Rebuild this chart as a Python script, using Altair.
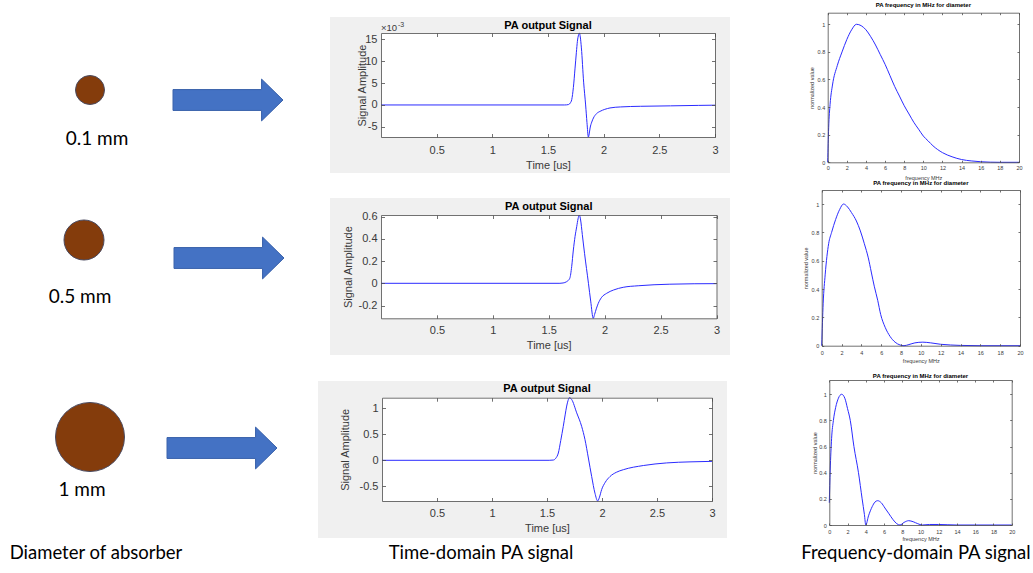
import altair as alt
import pandas as pd

W, H = 1033, 573

# ---------------- data ----------------
diam_mm = [0.1, 0.5, 1.0]
diam_labels = ["0.1 mm", "0.5 mm", "1 mm"]
captions = ["Diameter of absorber", "Time-domain PA signal", "Frequency-domain PA signal"]

# time-domain signals, time in us
t1 = [0, 1.65, 1.685, 1.70, 1.713, 1.728, 1.743, 1.755, 1.764, 1.775, 1.782, 1.79, 1.80, 1.82,
      1.838, 1.85, 1.8625, 1.87, 1.878, 1.893, 1.908, 1.935, 1.968, 2.01, 2.057, 2.15, 2.33, 2.6, 2.85, 3.0]
s1_e3 = [0, 0, 0.1, 0.45, 1.2, 4.0, 8.4, 12, 14.5, 16.0, 16.4, 15.5, 13, 5.2,
         0, -4, -7.3, -6.6, -5.25, -3.9, -2.97, -2.0, -1.45, -1.0, -0.68, -0.45, -0.3, -0.2, -0.1, -0.05]

t2 = [0, 1.60, 1.628, 1.66, 1.688, 1.705, 1.72, 1.735, 1.75, 1.762, 1.773, 1.785, 1.80, 1.82, 1.855,
      1.875, 1.898, 1.91, 1.925, 1.943, 1.97, 2.018, 2.08, 2.166, 2.3, 2.583, 2.8, 3.0]
s2 = [0, 0, 0.003, 0.015, 0.045, 0.15, 0.30, 0.42, 0.51, 0.58, 0.615, 0.57, 0.44, 0.27, 0,
      -0.16, -0.315, -0.28, -0.23, -0.18, -0.13, -0.09, -0.06, -0.036, -0.022, -0.008, -0.004, -0.003]

t3 = [0, 1.52, 1.558, 1.58, 1.603, 1.625, 1.648, 1.665, 1.679, 1.692, 1.703, 1.724, 1.77, 1.815, 1.845,
      1.876, 1.906, 1.936, 1.961, 1.975, 1.997, 2.03, 2.073, 2.13, 2.194, 2.376, 2.588, 2.8, 3.0]
s3 = [0, 0, 0.005, 0.04, 0.14, 0.38, 0.65, 0.87, 1.04, 1.15, 1.2, 1.166, 0.91, 0.65, 0.40,
      0.044, -0.31, -0.63, -0.78, -0.72, -0.56, -0.42, -0.31, -0.23, -0.18, -0.1, -0.05, -0.03, -0.02]

# frequency-domain spectra, frequency in MHz, normalized value
f1 = [0, 0.1, 0.25, 0.5, 1, 1.5, 2, 2.5, 3, 3.5, 4, 4.5, 5, 5.5, 6, 6.5, 7, 7.5, 8, 8.5, 9, 9.5, 10,
      10.5, 11, 12, 13, 14, 15, 16, 17, 18, 20]
p1 = [0, 0.25, 0.42, 0.56, 0.7, 0.8, 0.89, 0.96, 1.0, 0.99, 0.96, 0.91, 0.85, 0.78, 0.71, 0.63, 0.55,
      0.48, 0.41, 0.35, 0.29, 0.24, 0.19, 0.155, 0.12, 0.07, 0.04, 0.02, 0.01, 0.004, 0.001, 0, 0]

f2 = [0, 0.15, 0.35, 0.7, 1.0, 1.4, 1.8, 2.2, 2.6, 3.0, 3.5, 3.9, 4.3, 4.7, 5.0, 5.3, 5.65, 5.95,
      6.4, 6.9, 7.4, 7.9, 8.3, 8.8, 9.4, 10.2, 11, 12, 13, 14, 16, 20]
p2 = [0, 0.3, 0.5, 0.72, 0.8, 0.89, 0.96, 1.0, 0.98, 0.94, 0.88, 0.81, 0.72, 0.62, 0.52, 0.42, 0.32, 0.22,
      0.13, 0.065, 0.025, 0.005, 0, 0.008, 0.02, 0.025, 0.02, 0.01, 0.005, 0.002, 0, 0]

f3 = [0, 0.1, 0.25, 0.45, 0.7, 1.0, 1.35, 1.7, 2.0, 2.3, 2.7, 3.2, 3.6, 3.85, 4.0, 4.3, 4.7, 5.0,
      5.3, 5.7, 6.1, 6.5, 7.0, 7.4, 7.75, 8.2, 8.7, 9.2, 9.7, 10.2, 11, 12, 13, 14, 20]
p3 = [0.17, 0.42, 0.66, 0.8, 0.9, 0.97, 1.0, 0.97, 0.89, 0.8, 0.6, 0.4, 0.2, 0.08, 0.0, 0.07, 0.14, 0.175,
      0.186, 0.17, 0.13, 0.09, 0.04, 0.01, 0, 0.02, 0.033, 0.025, 0.01, 0, 0.004, 0.004, 0.002, 0, 0]

time_xticks = [0.5, 1, 1.5, 2, 2.5, 3]
t1_yticks = [-5, 0, 5, 10, 15]
t2_yticks = [-0.2, 0, 0.2, 0.4, 0.6]
t3_yticks = [-0.5, 0, 0.5, 1]
freq_xticks = [0, 2, 4, 6, 8, 10, 12, 14, 16, 18, 20]
freq_yticks = [0, 0.2, 0.4, 0.6, 0.8, 1]

time_title = "PA output Signal"
freq_title = "PA frequency in MHz for diameter"

# ---------------- layout & styles ----------------
BLUE = "#2b2bff"
AX = "#4d4d4d"
TXT = "#3a3a3a"
GRAY_BG = "#f0f0f0"
BROWN = "#843C0C"
ARROW_FILL = "#4472C4"
ARROW_STROKE = "#3a62ab"
MFONT = "Liberation Sans"
PFONT = "Lato"
LABEL_EXPR = "toString(datum.value)"

T_PANELS = [
    dict(L=381, R=715, T=33, B=137, bg=(330, 730, 17, 173), ydom=[-7.3, 16.4], ticks=t1_yticks,
         xlab_pad=7, xtitle_dy=28, ytitle_x=362, title_dy=7),
    dict(L=381, R=716.5, T=215, B=318.3, bg=(330, 730, 198, 355), ydom=[-0.315, 0.615], ticks=t2_yticks,
         xlab_pad=6.5, xtitle_dy=27, ytitle_x=348, title_dy=8),
    dict(L=382, R=712, T=397.7, B=501, bg=(318, 727, 381, 538), ydom=[-0.78, 1.2], ticks=t3_yticks,
         xlab_pad=6.5, xtitle_dy=27, ytitle_x=345, title_dy=9),
]
F_PANELS = [
    dict(L=827.7, R=1019, T=12.7, B=162.3, ydom=[0, 1.084], xlab_pad=3, xtitle_dy=14.7, ytitle_x=811.7, title_y=5),
    dict(L=821.7, R=1020, T=190, B=345.7, ydom=[0, 1.099], xlab_pad=4.5, xtitle_dy=15, ytitle_x=805, title_y=183.3),
    dict(L=829.3, R=1011.7, T=380, B=525, ydom=[0, 1.109], xlab_pad=4.3, xtitle_dy=13.3, ytitle_x=814, title_y=376),
]

CIRCLE_X = [90, 84, 90]
CIRCLE_Y = [90, 240, 437]
CIRCLE_AREA = [841, 1600, 4761]
LABEL_X = [97, 80, 82]
LABEL_Y = [139, 297, 490]
ARROW_X = [228, 229, 222]
ARROW_Y = [100, 258, 448]
ARROW_SIZE = 12100
ARROW_PATH = "M-1,-0.19L0.61,-0.19L0.61,-0.38L1,0L0.61,0.38L0.61,0.19L-1,0.19Z"
CAPTION_X = [96, 481, 916]
CAPTION_Y = 553
CAPTION_SIZE = 18.5

one = pd.DataFrame({"k": [0]})


def rect(x1, x2, y1, y2, color):
    return alt.Chart(one).mark_rect(color=color).encode(
        x=alt.value(x1), x2=alt.value(x2), y=alt.value(y1), y2=alt.value(y2))


def text(txt, x, y, size, font, weight="normal", color="black", align="center"):
    return alt.Chart(pd.DataFrame({"t": [txt]})).mark_text(
        font=font, fontSize=size, fontWeight=weight, color=color, align=align, baseline="middle"
    ).encode(text="t:N", x=alt.value(x), y=alt.value(y))


def panel(xv, yv, P, xdom, xt, yt, xtitle, ytitle, fs, tick, ylab_pad):
    df = pd.DataFrame({"x": xv, "y": yv})
    xs = alt.Scale(domain=xdom, range=[P["L"], P["R"]], nice=False, zero=False)
    ys = alt.Scale(domain=P["ydom"], range=[P["B"], P["T"]], nice=False, zero=False)
    common = dict(grid=False, zindex=1, labelFont=MFONT, titleFont=MFONT, labelColor=TXT, titleColor=TXT,
                  domainColor=AX, tickColor=AX, domainWidth=0.8, tickWidth=0.8)
    base = alt.Chart(df)
    line = base.mark_line(color=BLUE, strokeWidth=1, interpolate="monotone").encode(
        x=alt.X("x:Q", scale=xs, axis=alt.Axis(
            orient="bottom", offset=P["B"] - H, values=xt, ticks=False, tickSize=0, labelExpr=LABEL_EXPR,
            labelPadding=P["xlab_pad"], labelFontSize=fs, labelFlush=False, labelOverlap=False,
            title=xtitle, titleFontSize=fs, titleFontWeight="normal", titleBaseline="middle",
            titleAlign="center", titleX=(P["L"] + P["R"]) / 2, titleY=P["xtitle_dy"], **common)),
        y=alt.Y("y:Q", scale=ys, axis=alt.Axis(
            orient="left", offset=-P["L"], values=yt, ticks=False, tickSize=0, labelExpr=LABEL_EXPR,
            labelPadding=ylab_pad, labelFontSize=fs, labelFlush=False, labelOverlap=False,
            title=ytitle, titleFontSize=fs, titleFontWeight="normal", titleAngle=270,
            titleBaseline="middle", titleAlign="center", titleX=P["ytitle_x"] - P["L"],
            titleY=(P["T"] + P["B"]) / 2, **common)),
    )
    ticks_in = base.mark_line(opacity=0).encode(
        x=alt.X("x:Q", scale=xs, axis=alt.Axis(
            orient="top", offset=-P["B"], values=xt, labels=False, domain=False, tickSize=tick,
            title=None, **common)),
        y=alt.Y("y:Q", scale=ys, axis=alt.Axis(
            orient="right", offset=P["L"] - W, values=yt, labels=False, domain=False, tickSize=tick,
            title=None, **common)),
    )
    box = base.mark_line(opacity=0).encode(
        x=alt.X("x:Q", scale=xs, axis=alt.Axis(
            orient="bottom", offset=P["T"] - H, values=xt, labels=False, tickSize=tick,
            title=None, **common)),
        y=alt.Y("y:Q", scale=ys, axis=alt.Axis(
            orient="left", offset=-P["R"], values=yt, labels=False, tickSize=tick,
            title=None, **common)),
    )
    return [line, ticks_in, box]


layers = []

# time-domain panels
for P in T_PANELS:
    x1, x2, y1, y2 = P["bg"]
    layers.append(rect(x1, x2, y1, y2, GRAY_BG))
    layers.append(rect(P["L"], P["R"], P["T"], P["B"], "white"))

time_series = [(t1, s1_e3), (t2, s2), (t3, s3)]
for P, (tv, sv) in zip(T_PANELS, time_series):
    layers += panel(tv, sv, P, [0, 3], time_xticks, P["ticks"], "Time [us]", "Signal Amplitude", 11, 3.5, 4)
    layers.append(text(time_title, (P["L"] + P["R"]) / 2, P["T"] - P["title_dy"], 11, MFONT, "bold", "black"))

# x10^-3 exponent of the first panel
P0 = T_PANELS[0]
layers.append(text("×10", P0["L"], P0["T"] - 5, 9.5, MFONT, color=TXT, align="left"))
layers.append(text("-3", P0["L"] + 17, P0["T"] - 8, 7, MFONT, color=TXT, align="left"))

# frequency-domain panels
freq_series = [(f1, p1), (f2, p2), (f3, p3)]
for P, (fv, pv) in zip(F_PANELS, freq_series):
    layers += panel(fv, pv, P, [0, 20], freq_xticks, freq_yticks, "frequency MHz", "normalized value", 5.5, 2, 3)
    layers.append(text(freq_title, (P["L"] + P["R"]) / 2, P["title_y"], 6, MFONT, "bold", "black"))

# absorbers, labels and arrows
left_df = pd.DataFrame({"d": diam_mm, "label": diam_labels})
lin = dict(nice=False, zero=False)
layers.append(alt.Chart(left_df).mark_circle(opacity=1, fill=BROWN, stroke="#4a4a60", strokeWidth=1).encode(
    x=alt.X("d:Q", scale=alt.Scale(domain=diam_mm, range=CIRCLE_X, **lin), axis=None),
    y=alt.Y("d:Q", scale=alt.Scale(domain=diam_mm, range=CIRCLE_Y, **lin), axis=None),
    size=alt.Size("d:Q", scale=alt.Scale(domain=diam_mm, range=CIRCLE_AREA, **lin), legend=None),
))
layers.append(alt.Chart(left_df).mark_text(font=PFONT, fontSize=19, color="black", baseline="middle").encode(
    x=alt.X("d:Q", scale=alt.Scale(domain=diam_mm, range=LABEL_X, **lin), axis=None),
    y=alt.Y("d:Q", scale=alt.Scale(domain=diam_mm, range=LABEL_Y, **lin), axis=None),
    text="label:N",
))
layers.append(alt.Chart(left_df).mark_point(shape=ARROW_PATH, filled=True, opacity=1, fill=ARROW_FILL,
                                            stroke=ARROW_STROKE, strokeWidth=1).encode(
    x=alt.X("d:Q", scale=alt.Scale(domain=diam_mm, range=ARROW_X, **lin), axis=None),
    y=alt.Y("d:Q", scale=alt.Scale(domain=diam_mm, range=ARROW_Y, **lin), axis=None),
    size=alt.value(ARROW_SIZE),
))

for cap, cx in zip(captions, CAPTION_X):
    layers.append(text(cap, cx, CAPTION_Y, CAPTION_SIZE, PFONT))

chart = alt.layer(*layers).resolve_scale(
    x="independent", y="independent", size="independent"
).resolve_axis(x="independent", y="independent").properties(
    width=W, height=H, autosize=alt.AutoSizeParams(type="none"), padding=0, background="white"
).configure_view(stroke=None)

chart.save("out.html", embed_options={"renderer": "svg", "actions": False})
